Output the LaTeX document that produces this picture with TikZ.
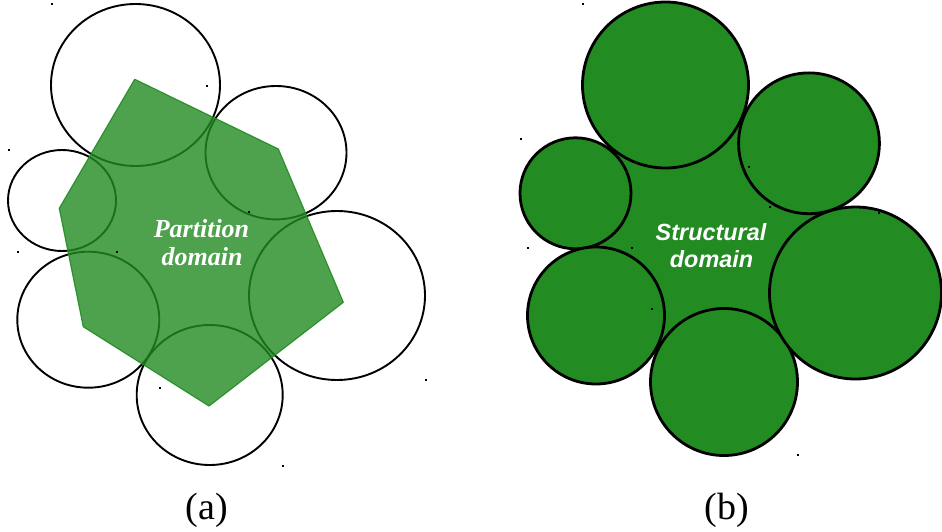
\documentclass[tikz,border=0pt]{standalone}
\usepackage{fontspec}
\setmainfont{Liberation Serif}
\newfontfamily\lsans{Liberation Sans}
\definecolor{fgreen}{HTML}{228B22}
\begin{document}
\begin{tikzpicture}[x=1pt,y=-1pt,
  opencirc/.style={draw=black,line width=1.9pt},
  fullcirc/.style={draw=black,fill=fgreen,line width=2.8pt},
  speck/.style={fill=black,inner sep=0pt,minimum size=1.3pt,shape=rectangle},
  lbl/.style={font=\fontsize{38}{40}\selectfont,anchor=base,inner sep=0pt},
  ptext/.style={text=white,font=\fontsize{26}{28}\selectfont\bfseries\itshape,anchor=base,inner sep=0pt},
  stext/.style={text=white,font=\lsans\fontsize{23.4}{27}\selectfont\bfseries\itshape,anchor=base,inner sep=0pt}]
\useasboundingbox (0,0) rectangle (942,532);
% ---------- (a) ----------
\draw[opencirc] (135.5,85) ellipse [x radius=84.5pt, y radius=81pt];
\draw[opencirc] (276,152.7) ellipse [x radius=70.5pt, y radius=66.7pt];
\draw[opencirc] (62,200.5) ellipse [x radius=54pt, y radius=50.5pt];
\draw[opencirc] (88.3,319.7) ellipse [x radius=71pt, y radius=68pt];
\draw[opencirc] (209.7,395) ellipse [x radius=73pt, y radius=70pt];
\draw[opencirc] (337,295.5) ellipse [x radius=88pt, y radius=84.5pt];
\fill[fgreen,fill opacity=0.8,draw=fgreen,draw opacity=0.9,line width=1.2pt,line join=round]
  (134.7,79.3) -- (278.3,149) -- (343.3,302.3) -- (209,406) -- (83.3,326.7) -- (59.3,208.3) -- cycle;
\node[ptext] (pa) at (201.5,237.3) {Partition};
\node[ptext] (pb) at (202,265.7) {domain};
\node[lbl] (la) at (207,519.3) {(a)};
% ---------- (b) ----------
\fill[fgreen] (665.5,85) -- (809,143.3) -- (855.5,293) -- (724,382) -- (596,315.5) -- (575.5,193.3) -- cycle;
\draw[fullcirc] (665.5,85) circle [radius=83pt];
\draw[fullcirc] (809,143.3) circle [radius=70.4pt];
\draw[fullcirc] (575.5,193.3) circle [radius=55.5pt];
\draw[fullcirc] (596,315.5) circle [radius=68.5pt];
\draw[fullcirc] (724,382) circle [radius=73.5pt];
\draw[fullcirc] (855.5,293) circle [radius=86pt];
\node[stext] (sa) at (711,240) {Structural};
\node[stext] (sb) at (711.5,267.7) {domain};
\node[lbl] (lb) at (727,519.3) {(b)};
% ---------- specks ----------
\foreach \p in {(52,4),(207,86),(9,150),(18,252),(117,252),(249,212),(160,388),(426,380),(283,466),
  (583,4),(521,139),(749,167),(770,207),(879,213),(528,248),(632,248),(652,309),(798,455)}
  \node[speck] at \p {};
\end{tikzpicture}
\end{document}
